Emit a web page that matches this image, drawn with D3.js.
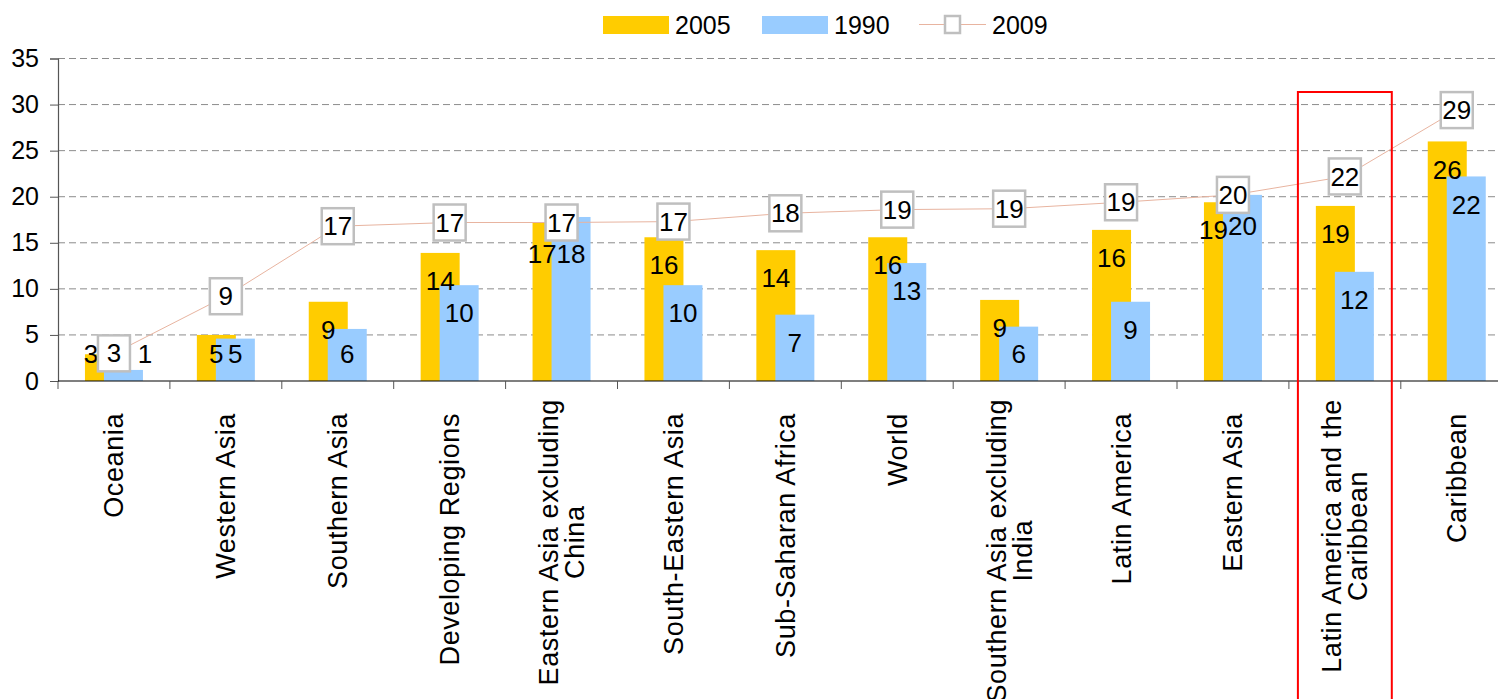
<!DOCTYPE html>
<html>
<head>
<meta charset="utf-8">
<script src="https://cdnjs.cloudflare.com/ajax/libs/d3/7.8.5/d3.min.js"></script>
<style>
  body { margin: 0; background: #fff; }
  svg { display: block; font-family: "Liberation Sans", Arial, sans-serif; }
</style>
</head>
<body>
<div id="chart"></div>
<script>
// data
var categories = ["Oceania", "Western Asia", "Southern Asia", "Developing Regions",
    "Eastern Asia excluding\nChina", "South-Eastern Asia", "Sub-Saharan Africa", "World",
    "Southern Asia excluding\nIndia", "Latin America", "Eastern Asia",
    "Latin America and the\nCaribbean", "Caribbean"];
var v2005 = [2.9, 5.0, 8.6, 13.9, 17.2, 15.6, 14.2, 15.6, 8.8, 16.4, 19.4, 19.0, 26.0];
var v1990 = [1.2, 4.6, 5.65, 10.4, 17.8, 10.4, 7.2, 12.8, 5.9, 8.6, 20.2, 11.85, 22.2];
var v2009 = [3.0, 9.2, 16.8, 17.2, 17.2, 17.3, 18.2, 18.6, 18.7, 19.4, 20.2, 22.2, 29.4];
var yTicks = [0, 5, 10, 15, 20, 25, 30, 35];
var highlight = "Latin America and the\nCaribbean";

var W = 1498, H = 699;
var plotLeft = 58, plotTop = 58.5, plotBottom = 381, band = 111.9;

var svg = d3.select('#chart').append('svg')
    .attr('width', W)
    .attr('height', H);

var x = d3.scaleBand()
    .domain(categories)
    .range([plotLeft, plotLeft + band * categories.length])
    .padding(0);

var y = d3.scaleLinear()
    .domain([0, 35])
    .range([plotBottom, plotTop]);

var cx = function(c) { return x(c) + x.bandwidth() / 2; };

// gridlines
svg.append('g').selectAll('line')
    .data(yTicks.filter(function(t) { return t > 0; }))
    .enter().append('line')
    .attr('x1', plotLeft).attr('x2', W)
    .attr('y1', function(d) { return y(d); })
    .attr('y2', function(d) { return y(d); })
    .attr('stroke', '#8c8c8c')
    .attr('stroke-width', 1)
    .attr('stroke-dasharray', '7,4');

// y axis
var yAxis = svg.append('g')
    .attr('transform', 'translate(' + plotLeft + ',0)')
    .call(d3.axisLeft(y).tickValues(yTicks).tickSize(8).tickPadding(11));
yAxis.select('.domain').attr('stroke', '#555').attr('stroke-width', 1.2);
yAxis.selectAll('.tick line').attr('stroke', '#555');
yAxis.selectAll('.tick text')
    .attr('font-size', 25)
    .attr('font-family', '"Liberation Sans", Arial, sans-serif')
    .attr('fill', '#000');

// bars
var data = categories.map(function(c, i) {
    return {cat: c, a: v2005[i], b: v1990[i], c: v2009[i]};
});

var barW = 39;
svg.append('g').selectAll('rect')
    .data(data).enter().append('rect')
    .attr('x', function(d) { return cx(d.cat) - 29; })
    .attr('y', function(d) { return y(d.a); })
    .attr('width', barW)
    .attr('height', function(d) { return plotBottom - y(d.a); })
    .style('fill', '#ffcc00');

svg.append('g').selectAll('rect')
    .data(data).enter().append('rect')
    .attr('x', function(d) { return cx(d.cat) - 10; })
    .attr('y', function(d) { return y(d.b); })
    .attr('width', barW)
    .attr('height', function(d) { return plotBottom - y(d.b); })
    .style('fill', '#99ccff');

// x axis
svg.append('line')
    .attr('x1', plotLeft).attr('x2', W)
    .attr('y1', plotBottom).attr('y2', plotBottom)
    .attr('stroke', '#000').attr('stroke-width', 1.2);
svg.append('g').selectAll('line')
    .data(categories.concat(['end'])).enter().append('line')
    .attr('x1', function(d, i) { return plotLeft + i * band; })
    .attr('x2', function(d, i) { return plotLeft + i * band; })
    .attr('y1', plotBottom).attr('y2', plotBottom + 8)
    .attr('stroke', '#555');

// category labels (rotated)
var catG = svg.append('g')
    .attr('font-size', 27)
    .attr('letter-spacing', 0.6)
    .attr('fill', '#000');
categories.forEach(function(c) {
    var lines = c.split('\n');
    var anchorY = 413 - (lines.length - 1) * 14;
    var t = catG.append('g').attr('transform', 'translate(' + cx(c) + ',0) rotate(-90)');
    var texts = lines.map(function(l, j) {
        return t.append('text')
            .attr('y', (j - (lines.length - 1) / 2) * 26)
            .attr('dy', '0.35em')
            .attr('text-anchor', 'middle')
            .text(l);
    });
    var maxW = d3.max(texts, function(s) { return s.node().getComputedTextLength(); });
    texts.forEach(function(s) { s.attr('x', -(anchorY + maxW / 2)); });
});

// 2009 line
var line = d3.line()
    .x(function(d) { return cx(d.cat); })
    .y(function(d) { return y(d.c); });
svg.append('path')
    .datum(data)
    .attr('d', line)
    .attr('fill', 'none')
    .attr('stroke', '#e8b4a0')
    .attr('stroke-width', 1);

// bar value labels - pushed away from the 2009 box and from each other
var boxW = 32, boxH = 36, fs = 26;
function labelPos(d, val, offX) {
    var lx = cx(d.cat) + offX;
    var ly = Math.min(y(val) + 28, 354);
    var bx = cx(d.cat), by = y(d.c);
    if (Math.abs(ly - by) < boxH - 6 && Math.abs(lx - bx) < boxW / 2) {
        var below = by + boxH / 2 + 13;
        if (below <= 354) {
            ly = below;
        } else {
            lx = offX > 0 ? bx + boxW / 2 + 15 : bx - boxW / 2 - 7;
        }
    }
    return [lx, ly];
}
function textW(v) { return String(Math.round(v)).length * 0.556 * fs; }

var valG = svg.append('g').attr('font-size', fs).attr('text-anchor', 'middle');
data.forEach(function(d) {
    var p2 = labelPos(d, d.b, 9.5);
    var p1 = labelPos(d, d.a, -9.5);
    var gap = (textW(d.a) + textW(d.b)) / 2;
    if (Math.abs(p1[1] - p2[1]) < 20 && p1[0] > p2[0] - gap) {
        p1[0] = p2[0] - gap;
    }
    valG.append('text').attr('x', p1[0]).attr('y', p1[1]).attr('dy', '0.35em')
        .text(Math.round(d.a));
    valG.append('text').attr('x', p2[0]).attr('y', p2[1]).attr('dy', '0.35em')
        .text(Math.round(d.b));
});

// 2009 boxed labels
var boxG = svg.append('g').attr('font-size', fs).attr('text-anchor', 'middle');
boxG.selectAll('rect')
    .data(data).enter().append('rect')
    .attr('x', function(d) { return cx(d.cat) - boxW / 2; })
    .attr('y', function(d) { return y(d.c) - boxH / 2; })
    .attr('width', boxW).attr('height', boxH)
    .attr('fill', '#fff')
    .attr('stroke', '#bfbfbf')
    .attr('stroke-width', 2.5);
boxG.selectAll('text')
    .data(data).enter().append('text')
    .attr('x', function(d) { return cx(d.cat); })
    .attr('y', function(d) { return y(d.c); })
    .attr('dy', '0.35em')
    .text(function(d) { return Math.round(d.c); });

// highlight box
svg.append('rect')
    .attr('x', x(highlight) + 9)
    .attr('y', 92)
    .attr('width', x.bandwidth() - 18)
    .attr('height', H - 92 + 10)
    .attr('fill', 'none')
    .attr('stroke', '#ff0000')
    .attr('stroke-width', 2);

// legend
var leg = svg.append('g').attr('font-size', 25);
leg.append('rect').attr('x', 603).attr('y', 16).attr('width', 66).attr('height', 18).style('fill', '#ffcc00');
leg.append('text').attr('x', 675).attr('y', 25).attr('dy', '0.35em').text('2005');
leg.append('rect').attr('x', 762).attr('y', 16).attr('width', 66).attr('height', 18).style('fill', '#99ccff');
leg.append('text').attr('x', 834).attr('y', 25).attr('dy', '0.35em').text('1990');
leg.append('line').attr('x1', 919).attr('x2', 986).attr('y1', 24.5).attr('y2', 24.5)
    .attr('stroke', '#e8b4a0').attr('stroke-width', 1);
leg.append('rect').attr('x', 945).attr('y', 16).attr('width', 15).attr('height', 17)
    .attr('fill', '#fff').attr('stroke', '#bfbfbf').attr('stroke-width', 2.5);
leg.append('text').attr('x', 992).attr('y', 25).attr('dy', '0.35em').text('2009');
</script>
</body>
</html>
